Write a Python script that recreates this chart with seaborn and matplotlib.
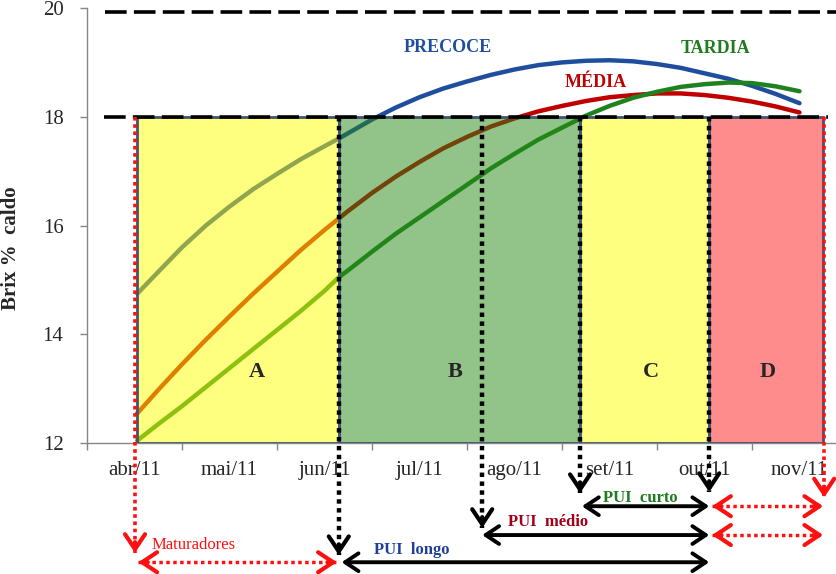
import pandas as pd
import matplotlib
matplotlib.use('Agg')
import matplotlib.pyplot as plt
import seaborn as sns

# month positions (0 = start of abr/11, 1 month per unit)
meses = [0.53, 0.75, 1.0, 1.25, 1.5, 1.75, 2.0, 2.25, 2.5, 2.65, 2.75, 3.0, 3.25, 3.5, 3.75,
         4.0, 4.25, 4.5, 4.75, 5.0, 5.25, 5.5, 5.75, 6.0, 6.25, 6.5, 6.75, 7.0, 7.25, 7.5]
precoce = [14.75, 15.15, 15.6, 16.0, 16.35, 16.67, 16.95, 17.22, 17.46, 17.6, 17.7, 17.95, 18.17, 18.36, 18.52,
           18.65, 18.77, 18.87, 18.95, 19.0, 19.03, 19.04, 19.02, 18.97, 18.9, 18.8, 18.7, 18.57, 18.42, 18.25]
media = [12.55, 12.98, 13.45, 13.9, 14.33, 14.75, 15.15, 15.55, 15.92, 16.13, 16.27, 16.6, 16.9, 17.17, 17.42,
         17.63, 17.82, 17.97, 18.1, 18.2, 18.29, 18.36, 18.4, 18.43, 18.43, 18.4, 18.35, 18.28, 18.19, 18.08]
tardia = [12.05, 12.35, 12.68, 13.03, 13.38, 13.73, 14.08, 14.43, 14.8, 15.05, 15.18, 15.52, 15.85, 16.15, 16.45,
          16.75, 17.05, 17.32, 17.58, 17.8, 18.02, 18.2, 18.35, 18.46, 18.55, 18.6, 18.63, 18.62, 18.56, 18.47]

tick_labels = ['abr/11', 'mai/11', 'jun/11', 'jul/11', 'ago/11', 'set/11', 'out/11', 'nov/11']

zone_edges = [0.53, 2.65, 5.19, 6.55, 7.75]
zone_names = ['A', 'B', 'C', 'D']
zone_name_x = [1.79, 3.87, 5.94, 7.17]
zone_colors = [(1, 1, 0, 0.5), (0.153, 0.537, 0.075, 0.5), (1, 1, 0, 0.5), (1, 0.1, 0.1, 0.5)]

line_colors = {'PRECOCE': '#1F4E9F', 'MÉDIA': '#C00000', 'TARDIA': '#1E821E'}

df = pd.concat([
    pd.DataFrame({'mes': meses, 'brix': precoce, 'variedade': 'PRECOCE'}),
    pd.DataFrame({'mes': meses, 'brix': media, 'variedade': 'MÉDIA'}),
    pd.DataFrame({'mes': meses, 'brix': tardia, 'variedade': 'TARDIA'}),
])

sns.set_style('white')
plt.rcParams['font.family'] = ['Liberation Serif', 'DejaVu Serif']

fig = plt.figure(figsize=(8.37, 5.74), dpi=100)
ax = fig.add_axes([0.104, 0.228, 0.896, 0.758])

sns.lineplot(data=df, x='mes', y='brix', hue='variedade', palette=line_colors,
             lw=3.2, legend=False, ax=ax, zorder=2)

# maturation zones (semi transparent, drawn over the curves)
lefts = zone_edges[:-1]
widths = [b - a for a, b in zip(zone_edges[:-1], zone_edges[1:])]
ax.bar(lefts, [6] * 4, width=widths, bottom=12, align='edge', color=zone_colors,
       edgecolor='#3F5573', linewidth=2, zorder=3)
for name, xt in zip(zone_names, zone_name_x):
    ax.text(xt, 13.3, name, ha='center', va='center', fontsize=16, fontweight='bold', zorder=6)

# reference levels
ax.plot([0.19, 7.9], [19.92, 19.92], color='black', lw=2.6, dashes=(6, 2), zorder=4, clip_on=False)
ax.plot([0.18, 7.8], [18, 18], color='black', lw=2.6, dashes=(6, 2), zorder=4, clip_on=False)

# curve labels
ax.text(3.8, 19.28, 'PRECOCE', color='#1F4E9F', fontsize=13, fontweight='bold', ha='center', va='center')
ax.text(6.62, 19.26, 'TARDIA', color='#1E7B1E', fontsize=13, fontweight='bold', ha='center', va='center')
ax.text(5.35, 18.64, 'MÉDIA', color='#C00000', fontsize=13, fontweight='bold', ha='center', va='center')


def head(x, y, dx, dy, color):
    ax.annotate('', xy=(x, y), xytext=(x + dx, y + dy), annotation_clip=False, zorder=7,
                arrowprops=dict(arrowstyle='->,head_length=0.6,head_width=0.4', color=color,
                                lw=3, mutation_scale=18, shrinkA=0, shrinkB=0))


def drop(x, y_end, color, lw):
    ax.plot([x, x], [18, y_end], color=color, lw=lw, ls=(0, (1, 1)), zorder=5, clip_on=False)
    head(x, y_end, 0, 0.2, color)


def span(x0, x1, y, color, dotted):
    if dotted:
        ax.plot([x0, x1], [y, y], color=color, lw=2.5, ls=(0, (1, 1)), zorder=5, clip_on=False)
        head(x0, y, 0.1, 0, color)
        head(x1, y, -0.1, 0, color)
    else:
        ax.annotate('', xy=(x1, y), xytext=(x0, y), annotation_clip=False, zorder=7,
                    arrowprops=dict(arrowstyle='<->,head_length=0.6,head_width=0.4', color=color,
                                    lw=2.8, mutation_scale=16, shrinkA=0, shrinkB=0))


drop(2.65, 9.94, 'black', 3.2)
drop(4.16, 10.44, 'black', 3.2)
drop(5.19, 11.08, 'black', 3.2)
drop(6.55, 11.1, 'black', 3.2)
drop(0.505, 9.98, '#FF1010', 2.6)
drop(7.76, 11.0, '#FF1010', 2.6)

span(5.21, 6.55, 10.84, 'black', False)
span(6.58, 7.75, 10.84, '#FF1010', True)
span(4.16, 6.55, 10.31, 'black', False)
span(6.58, 7.75, 10.31, '#FF1010', True)
span(2.68, 6.55, 9.81, 'black', False)
span(0.54, 2.63, 9.81, '#FF1010', True)

ax.text(5.82, 11.0, 'PUI  curto', color='#1E7B1E', fontsize=12, fontweight='bold', ha='center', va='center')
ax.text(4.85, 10.55, 'PUI  médio', color='#A00018', fontsize=12, fontweight='bold', ha='center', va='center')
ax.text(3.42, 10.03, 'PUI  longo', color='#1F3F99', fontsize=12, fontweight='bold', ha='center', va='center')
ax.text(1.12, 10.12, 'Maturadores', color='#FF1010', fontsize=12, ha='center', va='center')

# axes
ax.set_xlim(0, 7.895)
ax.set_ylim(12, 20)
ax.set_yticks([12, 14, 16, 18, 20])
ax.set_xticks(range(8))
ax.set_xticklabels([])
ax.set_xticks([i + 0.5 for i in range(8)], minor=True)
ax.set_xticklabels(tick_labels, minor=True)
ax.tick_params(axis='x', which='major', length=5, width=1, color='#868686', direction='out', bottom=True)
ax.tick_params(axis='x', which='minor', length=0, pad=13, labelsize=15)
ax.tick_params(axis='y', length=5, width=1, color='#868686', direction='out', left=True, pad=12, labelsize=15)
sns.despine(ax=ax, top=True, right=True)
for s in ['left', 'bottom']:
    ax.spines[s].set_color('#868686')
    ax.spines[s].set_linewidth(1)
ax.set_xlabel('')
ax.set_ylabel('Brix %  caldo', fontsize=15, fontweight='bold')
ax.yaxis.set_label_coords(-0.088, 0.448)

fig.savefig('out.png', dpi=100)
